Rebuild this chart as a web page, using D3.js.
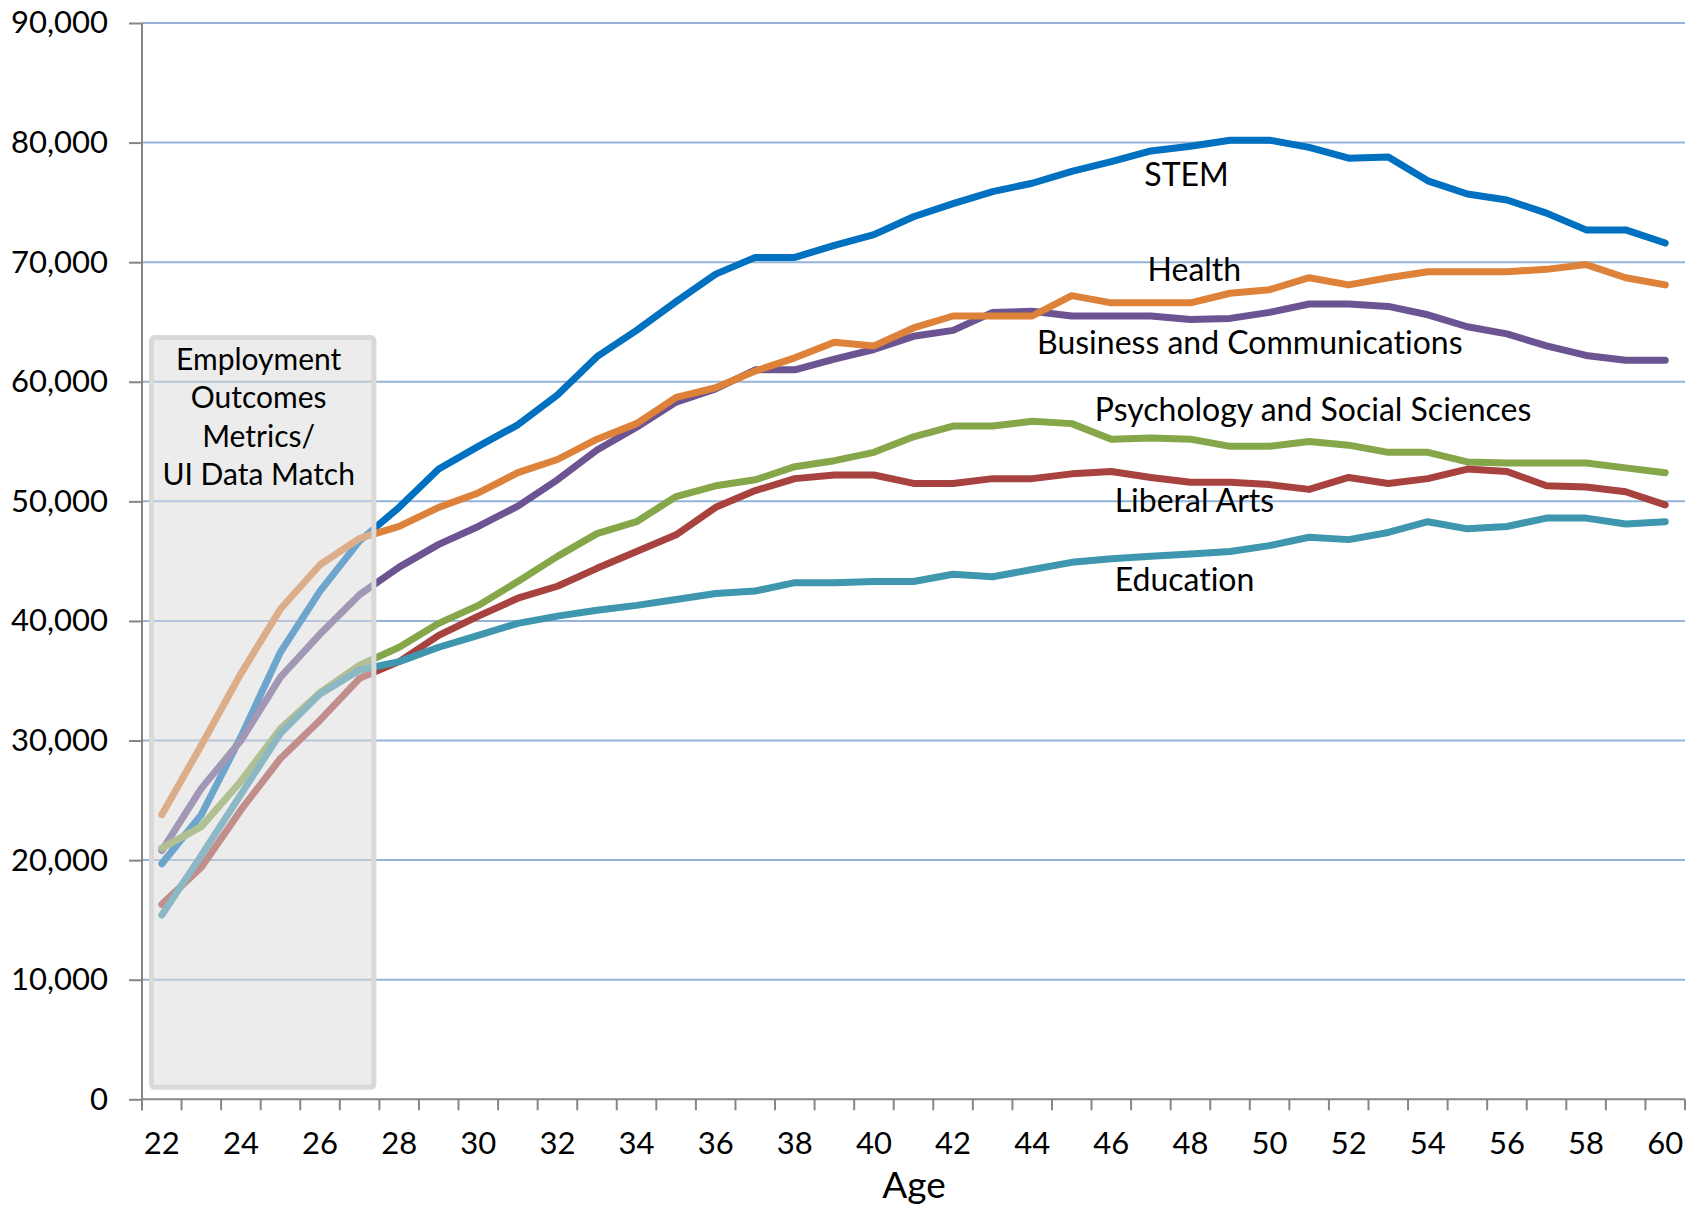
<!DOCTYPE html>
<html>
<head>
<meta charset="utf-8">
<script src="https://cdn.jsdelivr.net/npm/d3@7"></script>
<style>
html,body{margin:0;padding:0;background:#fff;}
svg{display:block;font-family:Lato,"Open Sans",sans-serif;font-variant-ligatures:none;}
</style>
</head>
<body>
<svg id="chart" width="1700" height="1206"></svg>
<script>
const ages = ["22","23","24","25","26","27","28","29","30","31","32","33","34","35","36","37","38","39","40","41","42","43","44","45","46","47","48","49","50","51","52","53","54","55","56","57","58","59","60"];
const xTickLabels = ["22","24","26","28","30","32","34","36","38","40","42","44","46","48","50","52","54","56","58","60"];
const yTicks = [0,10000,20000,30000,40000,50000,60000,70000,80000,90000];

const seriesNames = ["STEM","Health","Business and Communications","Psychology and Social Sciences","Liberal Arts","Education"];
const seriesColors = ["#0070C0","#DE8139","#6B5491","#86A64A","#A8423F","#3F97AF"];

const stem = [19700,23800,30300,37400,42500,46700,49500,52700,54600,56400,58900,62100,64300,66700,69000,70400,70400,71400,72300,73800,74900,75900,76600,77600,78400,79300,79700,80200,80200,79600,78700,78800,76800,75700,75200,74100,72700,72700,71600];
const health = [23800,29600,35600,41000,44700,46900,47900,49500,50700,52400,53500,55200,56500,58700,59500,60900,62000,63300,63000,64500,65500,65500,65500,67200,66600,66600,66600,67400,67700,68700,68100,68700,69200,69200,69200,69400,69800,68700,68100];
const business = [20800,26000,30000,35300,38900,42200,44500,46400,47900,49600,51800,54300,56200,58300,59400,61000,61000,61900,62700,63800,64300,65800,65900,65500,65500,65500,65200,65300,65800,66500,66500,66300,65600,64600,64000,63000,62200,61800,61800];
const psych = [21000,22800,26600,31000,34000,36300,37800,39800,41300,43300,45400,47300,48300,50400,51300,51800,52900,53400,54100,55400,56300,56300,56700,56500,55200,55300,55200,54600,54600,55000,54700,54100,54100,53300,53200,53200,53200,52800,52400];
const liberal = [16300,19400,24200,28500,31700,35200,36600,38800,40400,41900,42900,44400,45800,47200,49500,50900,51900,52200,52200,51500,51500,51900,51900,52300,52500,52000,51600,51600,51400,51000,52000,51500,51900,52700,52500,51300,51200,50800,49700];
const education = [15400,20400,25500,30600,33900,35900,36600,37800,38800,39800,40400,40900,41300,41800,42300,42500,43200,43200,43300,43300,43900,43700,44300,44900,45200,45400,45600,45800,46300,47000,46800,47400,48300,47700,47900,48600,48600,48100,48300];

// label anchor points (age, value) for the series labels
const labelAges = [47.9, 48.1, 49.5, 51.1, 48.1, 47.85];
const labelValues = [76400, 68400, 62300, 56760, 49100, 42500];

const boxLines = ["Employment","Outcomes","Metrics/","UI Data Match"];
const xTitle = "Age";

const seriesValues = [stem, health, business, psych, liberal, education];
const drawOrder = [0, 2, 1, 3, 4, 5];

const svg = d3.select("#chart");
const x = d3.scaleBand().domain(ages).range([142, 1685]).padding(0);
const bw = x.bandwidth();
const y = d3.scaleLinear().domain([0, 90000]).range([1099.3, 23]);
const xc = a => x(a) + bw / 2;
const xLin = d3.scaleLinear().domain([22, 60]).range([xc("22"), xc("60")]);

// gridlines
svg.append("g").selectAll("line")
  .data(yTicks.filter(d => d > 0))
  .join("line")
  .attr("x1", 142).attr("x2", 1685)
  .attr("y1", d => y(d)).attr("y2", d => y(d))
  .attr("stroke", "#95B3D7").attr("stroke-width", 2);

// y axis
const yAxis = svg.append("g").attr("transform", "translate(142,0)")
  .call(d3.axisLeft(y).tickValues(yTicks).tickSize(13).tickPadding(21).tickFormat(d3.format(",")));
yAxis.select(".domain").remove();
yAxis.selectAll(".tick line").attr("stroke", "#868686").attr("stroke-width", 2);
yAxis.selectAll(".tick text").attr("font-size", 31).attr("fill", "#000").attr("font-family", "Lato");
svg.append("line").attr("x1", 142).attr("x2", 142).attr("y1", y(90000)).attr("y2", y(0) + 11)
  .attr("stroke", "#868686").attr("stroke-width", 2);

// x axis
const xAxis = svg.append("g").attr("transform", `translate(0,${y(0)})`)
  .call(d3.axisBottom(x).tickValues(xTickLabels).tickSize(0).tickPadding(33));
xAxis.select(".domain").remove();
xAxis.selectAll(".tick text").attr("font-size", 31).attr("fill", "#000").attr("font-family", "Lato");
svg.append("line").attr("x1", 142).attr("x2", 1685).attr("y1", y(0)).attr("y2", y(0))
  .attr("stroke", "#868686").attr("stroke-width", 2);
svg.append("g").selectAll("line")
  .data(d3.range(ages.length + 1))
  .join("line")
  .attr("x1", i => 142 + i * x.step()).attr("x2", i => 142 + i * x.step())
  .attr("y1", y(0)).attr("y2", y(0) + 11)
  .attr("stroke", "#868686").attr("stroke-width", 2);

svg.append("text").attr("x", 914).attr("y", 1198).attr("text-anchor", "middle")
  .attr("font-size", 37).attr("font-family", "Lato").text(xTitle);

// lines
const line = d3.line().x((d, i) => xc(ages[i])).y(d => y(d));
svg.append("g").selectAll("path")
  .data(drawOrder)
  .join("path")
  .attr("d", k => line(seriesValues[k]))
  .attr("fill", "none")
  .attr("stroke", k => seriesColors[k])
  .attr("stroke-width", 7)
  .attr("stroke-linejoin", "round")
  .attr("stroke-linecap", "round");

// shaded box over ages 22-27
const bx0 = x("22") + 9.5, bx1 = x("27") + bw - 5.5;
const by0 = y(63700), by1 = y(1000);
svg.append("rect")
  .attr("x", bx0).attr("y", by0).attr("width", bx1 - bx0).attr("height", by1 - by0)
  .attr("rx", 3)
  .attr("fill", "rgba(217,217,217,0.5)")
  .attr("stroke", "#D9D9D9").attr("stroke-width", 5);
const bcx = (bx0 + bx1) / 2 - 4;
svg.append("g").selectAll("text")
  .data(boxLines)
  .join("text")
  .attr("x", bcx).attr("y", (d, i) => 370 + i * 38.3)
  .attr("text-anchor", "middle").attr("font-size", 30).attr("font-family", "Lato")
  .text(d => d);

// series labels
svg.append("g").selectAll("text")
  .data(seriesNames)
  .join("text")
  .attr("x", (d, i) => xLin(labelAges[i]))
  .attr("y", (d, i) => y(labelValues[i]))
  .attr("text-anchor", "middle").attr("font-size", 32).attr("font-family", "Lato")
  .text(d => d);
</script>
</body>
</html>
